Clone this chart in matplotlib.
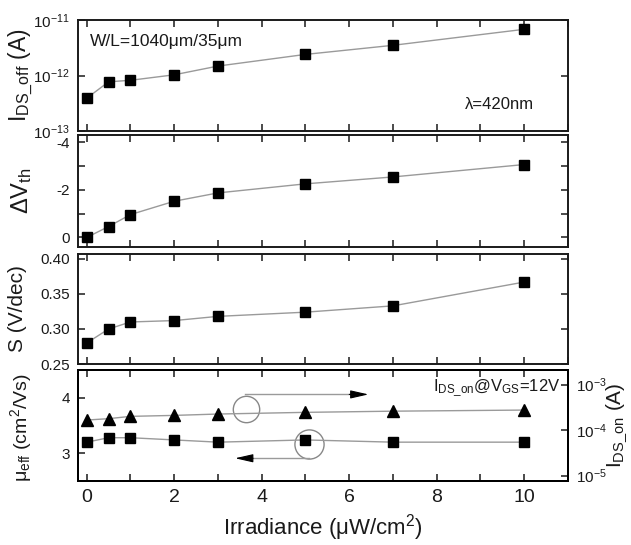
import matplotlib
matplotlib.use("Agg")
import matplotlib.pyplot as plt
from matplotlib.ticker import MultipleLocator, FixedLocator, NullLocator, LogLocator

plt.rcParams["font.family"] = ["Liberation Sans", "DejaVu Sans"]
plt.rcParams["mathtext.default"] = "regular"
plt.rcParams["axes.unicode_minus"] = False
plt.rcParams["text.color"] = "#1a1a1a"
plt.rcParams["axes.labelcolor"] = "#1a1a1a"

# data
irradiance = [0, 0.5, 1, 2, 3, 5, 7, 10]
ids_off = [3.9e-13, 7.7e-13, 8.2e-13, 1.03e-12, 1.48e-12, 2.4e-12, 3.5e-12, 6.8e-12]
delta_vth = [0.0, -0.46, -0.96, -1.52, -1.87, -2.25, -2.54, -3.06]
swing = [0.280, 0.300, 0.310, 0.312, 0.318, 0.324, 0.333, 0.367]
mu_eff = [3.20, 3.28, 3.28, 3.24, 3.20, 3.24, 3.20, 3.20]
ids_on = [1.66e-4, 1.78e-4, 2.0e-4, 2.1e-4, 2.25e-4, 2.45e-4, 2.6e-4, 2.75e-4]

line_col = "#9a9a9a"
fig = plt.figure(figsize=(6.31, 5.45), dpi=100)

left, width = 0.1236, 0.7765
rects = [(0.7596, 0.2037), (0.5468, 0.2055), (0.3321, 0.2018), (0.1174, 0.2037)]
axes = [fig.add_axes([left, y0, width, h]) for y0, h in rects]


def style(ax, last=False):
    ax.set_xlim(-0.2, 11)
    ax.xaxis.set_major_locator(MultipleLocator(2))
    ax.xaxis.set_minor_locator(MultipleLocator(1))
    ax.tick_params(which="both", direction="in", top=True, length=5, width=1.1,
                   colors="#1a1a1a", labelsize=11)
    ax.tick_params(axis="y", which="both", pad=6)
    ax.tick_params(axis="x", which="both", labelbottom=last, labelsize=14, pad=6)
    for s in ax.spines.values():
        s.set_linewidth(1.4)
        s.set_color("#1a1a1a")


def series(ax, y, marker="s"):
    ax.plot(irradiance, y, color=line_col, lw=1.0, marker=marker, ms=7,
            mfc="black", mec="black", zorder=3)


# panel 1: off current
ax1 = axes[0]
series(ax1, ids_off)
ax1.set_yscale("log")
ax1.set_ylim(1e-13, 1e-11)
ax1.yaxis.set_minor_locator(NullLocator())
style(ax1)
ax1.tick_params(axis="y", right=True)
ax1.set_ylabel("I$_{DS\\_off}$ (A)", fontsize=16.5)
ax1.yaxis.set_label_coords(-0.088, 0.5)
ax1.text(0.025, 0.77, "W/L=1040μm/35μm", transform=ax1.transAxes, fontsize=12.5)
ax1.text(0.79, 0.2, "λ=420nm", transform=ax1.transAxes, fontsize=12)

# panel 2: threshold shift
ax2 = axes[1]
series(ax2, delta_vth)
ax2.set_ylim(0.4, -4.3)
ax2.yaxis.set_major_locator(FixedLocator([0, -2, -4]))
ax2.yaxis.set_minor_locator(FixedLocator([-1, -3]))
style(ax2)
ax2.tick_params(axis="y", which="both", right=True)
ax2.set_ylabel("ΔV$_{th}$", fontsize=17)
ax2.yaxis.set_label_coords(-0.09, 0.5)

# panel 3: subthreshold swing
ax3 = axes[2]
series(ax3, swing)
ax3.set_ylim(0.25, 0.407)
ax3.yaxis.set_major_locator(FixedLocator([0.25, 0.30, 0.35, 0.40]))
ax3.yaxis.set_major_formatter(plt.FormatStrFormatter("%.2f"))
style(ax3)
ax3.tick_params(axis="y", right=True)
ax3.set_ylabel("S (V/dec)", fontsize=15)
ax3.yaxis.set_label_coords(-0.105, 0.5)

# panel 4: mobility and on current
ax4 = axes[3]
series(ax4, mu_eff)
ax4.set_ylim(2.5, 4.5)
ax4.yaxis.set_major_locator(FixedLocator([3, 4]))
style(ax4, last=True)
ax4.tick_params(axis="y", right=False)
ax4.set_ylabel("μ$_{eff}$ (cm$^2$/Vs)", fontsize=14)
ax4.yaxis.set_label_coords(-0.09, 0.48)
ax4.set_xlabel("Irradiance (μW/cm$^2$)", fontsize=16)

ax4r = ax4.twinx()
ax4r.plot(irradiance, ids_on, color=line_col, lw=1.0, marker="^", ms=8,
          mfc="black", mec="black", zorder=3)
ax4r.set_yscale("log")
ax4r.set_ylim(10 ** -5.12, 10 ** -2.68)
ax4r.yaxis.set_major_locator(LogLocator(base=10, numticks=10))
ax4r.yaxis.set_minor_locator(NullLocator())
ax4r.tick_params(axis="y", direction="in", length=5, width=1.1, labelsize=11,
                 colors="#1a1a1a", pad=6)
ax4r.set_ylabel("I$_{DS\\_on}$ (A)", fontsize=15)
ax4r.yaxis.set_label_coords(1.075, 0.5)
for s in ax4r.spines.values():
    s.set_linewidth(1.4)

ax4.text(0.985, 0.84, "I$_{DS\\_on}$@V$_{GS}$=12V", transform=ax4.transAxes,
         ha="right", va="center", fontsize=12)

# circles and arrows marking which axis each series uses
ax4.plot([3.65], [3.79], "o", ms=19, mfc="none", mec="#888888", mew=1.0, zorder=2)
ax4.plot([3.62, 6.1], [4.06, 4.06], color=line_col, lw=1.0)
ax4.annotate("", xy=(6.44, 4.06), xytext=(6.0, 4.06),
             arrowprops=dict(arrowstyle="-|>,head_length=1.1,head_width=0.25",
                             color="black", lw=0.8, mutation_scale=10,
                             shrinkA=0, shrinkB=0))
ax4.plot([5.09], [3.17], "o", ms=21, mfc="none", mec="#888888", mew=1.0, zorder=2)
ax4.plot([5.09, 3.7], [2.91, 2.91], color=line_col, lw=1.0)
ax4.annotate("", xy=(3.39, 2.91), xytext=(3.8, 2.91),
             arrowprops=dict(arrowstyle="-|>,head_length=1.1,head_width=0.25",
                             color="black", lw=0.8, mutation_scale=10,
                             shrinkA=0, shrinkB=0))

fig.savefig("out.png", dpi=100)
plt.close(fig)
